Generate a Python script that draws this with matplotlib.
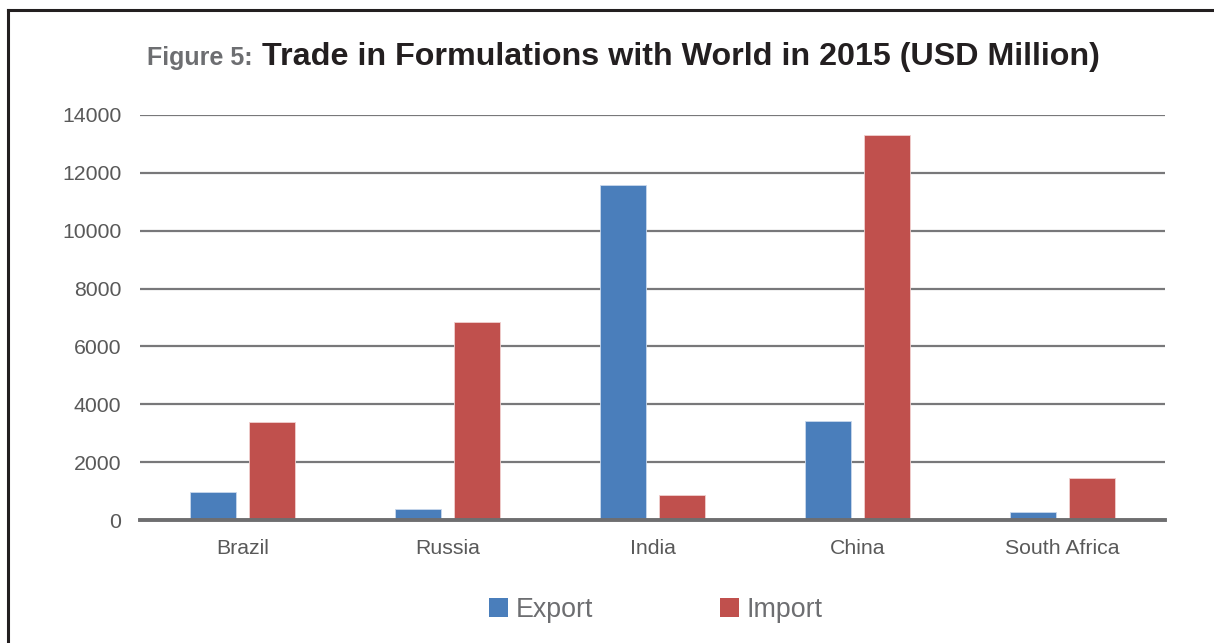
import matplotlib
matplotlib.use("Agg")
import matplotlib.pyplot as plt
import numpy as np
from matplotlib.lines import Line2D
from matplotlib.patches import Patch

plt.rcParams['font.family'] = ['Liberation Sans', 'DejaVu Sans']

categories = ["Brazil", "Russia", "India", "China", "South Africa"]
export_vals = [980, 370, 11580, 3430, 280]
import_vals = [3380, 6860, 880, 13300, 1460]
yticks = [0, 2000, 4000, 6000, 8000, 10000, 12000, 14000]

W, H = 1214, 643
fig = plt.figure(figsize=(W/100, H/100), dpi=100)
ax = fig.add_axes([140/W, 1-520/H, (1165-140)/W, (520-115)/H])

blue = '#4a7ebb'
red = '#c0504d'
x = np.arange(len(categories))
bw = 0.224
off = 0.145
ax.bar(x - off, export_vals, width=bw, color=blue, edgecolor='#c9d8ec', linewidth=0.6, zorder=3)
ax.bar(x + off, import_vals, width=bw, color=red, edgecolor='#f0d0cf', linewidth=0.6, zorder=3)

ax.set_xlim(-0.5, len(categories) - 0.5)
ax.set_ylim(0, 14000)
ax.set_yticks(yticks)
ax.set_yticklabels([str(v) for v in yticks])
ax.set_xticks(x)
ax.set_xticklabels(categories)
ax.tick_params(axis='both', length=0, labelsize=15.3, labelcolor='#595959')
ax.tick_params(axis='y', pad=13.5)
ax.tick_params(axis='x', pad=14)
ax.grid(axis='y', color='#78787a', linewidth=1.6, zorder=1)
ax.set_axisbelow(True)
for s in ['top', 'right', 'left']:
    ax.spines[s].set_visible(False)
ax.spines['bottom'].set_color('#6e6e70')
ax.spines['bottom'].set_linewidth(2.8)
ax.spines['bottom'].set_zorder(4)

# Title
fig.text(147/W, 1-58/H, "Figure 5:", fontsize=18, fontweight='bold', color='#6d6e71',
         ha='left', va='center')
fig.text(262/W, 1-57/H, "Trade in Formulations with World in 2015 (USD Million)",
         fontsize=23.2, fontweight='bold', color='#231f20', ha='left', va='center')

# Legend
handles = [Patch(facecolor=blue, edgecolor='none'), Patch(facecolor=red, edgecolor='none')]
leg = fig.legend(handles, ["Export", "Import"], loc='center', bbox_to_anchor=(656/W, 1-610/H),
                 ncol=2, frameon=False, fontsize=19.3, handlelength=0.7, handleheight=0.7,
                 handletextpad=0.3, columnspacing=4.73, labelcolor='#6d6e71')

# Frame border
fig.add_artist(Line2D([8/W, 8/W], [0, 1-10/H], transform=fig.transFigure, color='#231f20', lw=2.2))
fig.add_artist(Line2D([8/W, 1.0], [1-10/H, 1-10/H], transform=fig.transFigure, color='#231f20', lw=2.2))

fig.savefig("out.png", dpi=100)
